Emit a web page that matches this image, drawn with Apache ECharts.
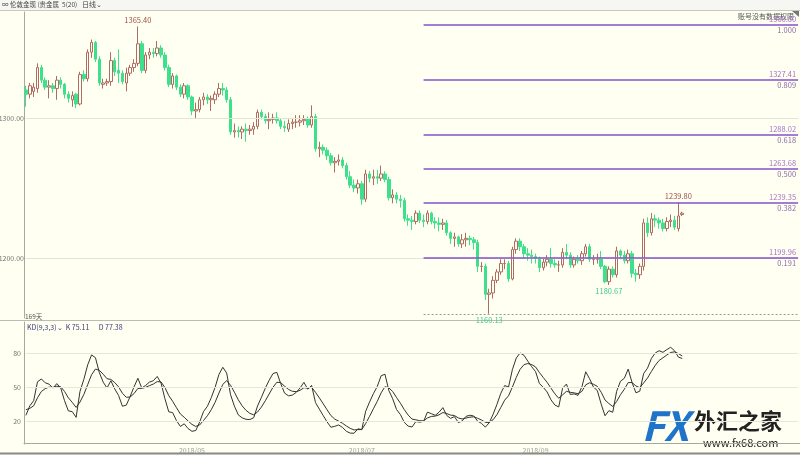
<!DOCTYPE html>
<html><head><meta charset="utf-8">
<script src="https://cdn.jsdelivr.net/npm/echarts@6/dist/echarts.min.js"></script>
<style>html,body{margin:0;padding:0;background:#fffff2;}#c{width:800px;height:455px;}</style>
</head><body><div id="c"></div>
<script>
// ---------- data ----------
const startDate = '2018-03-01';
const categoryCount = 201; // trading days on the axis (data + empty space to the right)
function tradingDays(start, n){
  const out=[]; const d=new Date(start+'T00:00:00Z');
  while(out.length<n){
    const w=d.getUTCDay();
    if(w!==0&&w!==6){ out.push(d.getUTCFullYear()+'/'+String(d.getUTCMonth()+1).padStart(2,'0')+'/'+String(d.getUTCDate()).padStart(2,'0')); }
    d.setUTCDate(d.getUTCDate()+1);
  }
  return out;
}
const dates = tradingDays(startDate, categoryCount);

// [open, close, low, high]
const ohlc = [
[1320,1317,1308,1323],[1317,1323,1314,1325],[1319,1322,1315,1325],[1321,1336,1318,1339],[1336,1327,1325,1338],
[1327,1322,1320,1329],[1322,1323,1314,1327],[1323,1321,1318,1325],[1321,1327,1313,1330],[1327,1324,1321,1329],
[1324,1317,1314,1325],[1317,1314,1311,1319],[1313,1316,1308,1319],[1317,1310,1307,1318],[1310,1331,1309,1333],
[1331,1328,1326,1334],[1328,1347,1326,1349],[1347,1354,1343,1356],[1354,1342,1340,1355],[1342,1325,1323,1344],
[1324,1325,1321,1328],[1325,1326,1323,1328],[1326,1341,1323,1347],[1341,1333,1330,1343],[1334,1332,1325,1349],
[1332,1326,1324,1334],[1325,1332,1319,1336],[1332,1336,1330,1338],[1336,1339,1333,1342],[1339,1353,1337,1365.4],
[1353,1334,1332,1355],[1334,1345,1332,1347],[1345,1347,1342,1350],[1347,1346,1343,1350],[1346,1350,1344,1355],
[1350,1345,1343,1352],[1345,1336,1334,1347],[1336,1324,1322,1338],[1324,1330,1321,1332],[1330,1322,1320,1331],
[1322,1317,1315,1324],[1317,1323,1314,1325],[1323,1315,1313,1324],[1315,1305,1302,1316],[1305,1306,1300,1311],
[1306,1313,1304,1315],[1313,1315,1309,1318],[1315,1313,1310,1317],[1313,1314,1305,1316],[1313,1317,1310,1319],
[1317,1321,1315,1325],[1321,1320,1316,1325],[1320,1313,1311,1322],[1313,1290,1288,1315],[1290,1291,1286,1296],
[1291,1290,1286,1294],[1290,1292,1285,1294],[1292,1291,1283,1296],[1291,1292,1288,1295],[1292,1294,1288,1297],
[1294,1304,1292,1306],[1304,1301,1299,1306],[1301,1298,1296,1303],[1298,1299,1292,1304],[1299,1300,1296,1303],
[1300,1298,1296,1304],[1298,1294,1292,1300],[1294,1293,1290,1298],[1292,1296,1290,1299],[1296,1297,1292,1300],
[1297,1297,1293,1302],[1297,1298,1294,1302],[1298,1299,1295,1302],[1299,1295,1293,1301],[1295,1301,1293,1309],
[1301,1278,1276,1303],[1278,1279,1272,1283],[1279,1277,1274,1281],[1277,1273,1270,1279],[1273,1268,1266,1275],
[1268,1269,1261,1272],[1269,1270,1266,1274],[1270,1266,1264,1272],[1266,1258,1256,1268],[1258,1252,1250,1262],
[1252,1250,1247,1256],[1250,1253,1246,1256],[1253,1242,1238,1255],[1242,1260,1240,1263],[1260,1257,1254,1262],
[1257,1258,1252,1263],[1258,1257,1253,1263],[1257,1260,1255,1266],[1260,1256,1254,1262],[1256,1243,1241,1258],
[1243,1245,1239,1249],[1245,1242,1239,1247],[1242,1241,1236,1245],[1241,1228,1226,1243],[1228,1227,1223,1231],
[1227,1226,1220,1230],[1226,1232,1224,1234],[1232,1227,1225,1234],[1227,1226,1222,1231],[1226,1232,1224,1234],
[1232,1226,1224,1233],[1226,1225,1221,1229],[1225,1224,1219,1229],[1224,1225,1220,1228],[1225,1218,1216,1227],
[1218,1214,1210,1219],[1214,1215,1208,1218],[1215,1210,1208,1216],[1210,1213,1207,1217],[1213,1214,1208,1218],
[1214,1213,1209,1216],[1213,1211,1206,1215],[1211,1194,1190,1213],[1194,1194,1190,1197],[1194,1174,1170,1196],
[1174,1175,1160.13,1178],[1175,1184,1171,1187],[1184,1190,1182,1192],[1190,1196,1188,1199],[1196,1196,1192,1199],
[1196,1185,1183,1198],[1185,1206,1184,1208],[1206,1212,1203,1214],[1212,1208,1205,1214],[1208,1203,1200,1210],
[1203,1202,1198,1207],[1202,1201,1196,1206],[1201,1200,1196,1203],[1200,1193,1190,1201],[1193,1197,1191,1200],
[1197,1199,1194,1202],[1199,1196,1193,1207],[1196,1195,1193,1199],[1195,1195,1190,1198],[1195,1204,1193,1207],
[1204,1202,1199,1210],[1202,1195,1193,1204],[1195,1199,1193,1201],[1199,1198,1196,1202],[1198,1203,1195,1205],
[1203,1208,1201,1210],[1208,1199,1197,1210],[1199,1199,1195,1202],[1199,1200,1196,1203],[1200,1194,1192,1205],
[1194,1183,1182,1195],[1183,1192,1180.67,1194],[1192,1188,1186,1194],[1188,1205,1186,1208],[1205,1202,1199,1206],
[1202,1198,1196,1205],[1198,1203,1196,1206],[1203,1189,1186,1205],[1189,1188,1183,1192],[1188,1194,1185,1196],
[1194,1225,1191,1228],[1225,1218,1215,1229],[1218,1228,1216,1232],[1228,1227,1222,1231],[1227,1225,1221,1229],
[1225,1221,1219,1228],[1221,1226,1219,1229],[1226,1227,1222,1231],[1227,1222,1220,1230],[1221,1230,1219,1239.8],
[1231,1232,1230,1233]
];

const kValues = [
25,33.3,37.9,54.6,57.1,53.7,52.5,49,53,49.3,
37.9,28.9,28.3,23.2,46.1,56.7,69.5,78.3,75.9,62.9,
54.3,49.2,55.5,48.3,42.5,33,34,41.7,50.1,57.7,
49.1,51.4,54.3,55.5,59.3,53.5,39.7,28.1,27.4,20.3,
15.2,17.5,13.3,10.9,11.6,19.1,28.4,32.9,40.6,49.7,
61.1,67.4,62.3,43.2,33.1,25.4,22.8,21.5,21.3,22.9,
33.3,40.9,48.9,55.9,61.9,62.9,52.9,44.6,42.2,42.8,
45.2,49.1,54.1,48.1,51.4,36.3,30.5,24.8,19.2,14.5,
15.3,16.5,14.3,10.9,9.3,9.2,13.1,12.4,28.6,36.7,
44.1,50.4,59.9,61.3,46.9,39.6,30.1,25.7,18.8,15.5,
14.7,19.5,19,19.7,27.8,26.5,25,27.7,31.8,24.9,
22.3,23.9,18.6,20.1,24.1,25.1,24.4,19.9,17.9,14.6,
18.4,25.9,34.6,44.4,51.3,49.9,65.3,75.5,80,78,
72.8,67.9,63.6,53.1,49.7,45.6,38.7,34.1,32.4,48.9,
52.6,43.4,43.9,42.6,50.1,63.4,57.3,49.9,46.9,34.9,
24.6,29.1,27.7,46.1,55.1,57.7,65.8,53.9,44.9,46.3,
61.9,66.6,75.1,80,82,80.6,83,85,82,76.4,75.11
];
const dValues = [
30,31.1,33.4,40.5,46,48.6,49.9,49.6,50.7,50.2,
46.1,40.4,36.4,32,36.7,43.4,52.1,60.8,65.8,64.8,
61.3,57.3,56.7,53.9,50.1,44.4,40.9,41.2,44.2,48.7,
48.8,49.7,51.2,52.6,54.8,54.4,49.5,42.4,37.4,31.7,
26.2,23.3,20,17,15.2,16.5,20.5,24.6,29.9,36.5,
44.7,52.3,55.6,51.5,45.4,38.7,33.4,29.4,26.7,25.4,
28,32.3,37.8,43.8,49.8,54.2,53.8,50.7,47.9,46.2,
45.9,47,49.4,49,49.8,45.3,40.4,35.2,29.9,24.8,
21.6,19.9,18,15.6,13.5,12.1,12.4,12.4,17.8,24.1,
30.8,37.3,44.8,50.3,49.2,46,40.7,35.7,30.1,25.2,
21.7,21,20.3,20.1,22.7,24,24.3,25.4,27.5,26.6,
25.2,24.8,22.7,21.8,22.6,23.4,23.7,22.4,20.9,18.8,
18.7,21.1,25.6,31.9,38.4,42.2,49.9,58.4,65.6,69.7,
70.7,69.8,67.7,62.8,58.4,54.1,49,44,40.1,43,
46.2,45.3,44.8,44.1,46.1,51.9,53.7,52.4,50.6,45.4,
38.5,35.4,32.8,37.2,43.2,48,53.9,53.9,50.9,49.4,
53.6,57.9,63.6,69.1,73.4,75.8,78.2,80.5,81,79.5,77.38
];

const fibPrices = [1366.80,1327.41,1288.02,1263.68,1239.35,1199.96];
const fibRatios = ['1.000','0.809','0.618','0.500','0.382','0.191'];
const fibStartDate = '2018/07/24';
const lowLevel = 1160.13;
const priceGuides = [1300, 1200];
const kdGuides = [80, 50, 20];
const monthLabels = ['2018/05','2018/07','2018/09'];
const annotations = [
  {date:'2018/04/11', value:1365.40, pos:'top', color:'#a0504a'},
  {date:'2018/08/16', value:1160.13, pos:'bottom', color:'#3ec98a'},
  {date:'2018/09/28', value:1180.67, pos:'bottom', color:'#3ec98a'},
  {date:'2018/10/24', value:1239.80, pos:'top', color:'#a0504a'}
];

// ---------- chart ----------
const FONT = "'Noto Sans CJK SC','Noto Sans',sans-serif";
const chart = echarts.init(document.getElementById('c'), null, {renderer:'canvas'});
const lastCat = dates[dates.length-1];

const marks = [];
priceGuides.forEach(p=>{
  marks.push([{coord:[dates[0],p], lineStyle:{color:'#e4e4d6',width:1,type:'solid'},
    label:{show:true,position:'start',formatter:p.toFixed(2),color:'#777',fontSize:7,fontFamily:FONT,distance:2}},{coord:[lastCat,p]}]);
});
fibPrices.forEach((p,i)=>{
  marks.push([{coord:[fibStartDate,p], lineStyle:{color:'#8450c8',width:1.6,type:'solid'},
     label:{show:true,position:'insideEnd',distance:2,
       formatter:'{p|'+p.toFixed(2)+'}\n{r|'+fibRatios[i]+'}',
       rich:{p:{color:'#a472c8',fontSize:7.5,fontFamily:FONT,lineHeight:11,align:'right'},
             r:{color:'#8a6aa8',fontSize:7.5,fontFamily:FONT,lineHeight:11,align:'right'}}}},
     {coord:[lastCat,p]}]);
});
marks.push([{coord:[fibStartDate,lowLevel], lineStyle:{color:'#9a9a9a',width:1,type:[2,2]}, label:{show:false}},{coord:[lastCat,lowLevel]}]);

const kdMarks = kdGuides.map(v=>[{coord:[dates[0],v], lineStyle:{color:'#e6e6da',width:1,type:'solid'},
   label:{show:true,position:'start',formatter:String(v),color:'#777',fontSize:7,fontFamily:FONT,distance:5}},{coord:[lastCat,v]}]);

function isMonthStart(idx){
  if(idx===0) return false;
  return dates[idx].slice(0,7)!==dates[idx-1].slice(0,7) && monthLabels.includes(dates[idx].slice(0,7));
}

const option = {
  backgroundColor:'#fffff2',
  animation:false,
  textStyle:{fontFamily:FONT},
  grid:[
    {left:24,right:0,top:12,height:306},
    {left:24,right:0,top:322,height:122}
  ],
  xAxis:[
    {type:'category',gridIndex:0,data:dates,boundaryGap:true,show:false},
    {type:'category',gridIndex:1,data:dates,boundaryGap:true,
     axisLine:{lineStyle:{color:'#a8a8a0'}},axisTick:{show:false},
     axisLabel:{interval:(idx)=>isMonthStart(idx),formatter:(v)=>v.slice(0,7),color:'#a0a0a0',fontSize:7,margin:3,fontFamily:FONT},
     splitLine:{show:false}}
  ],
  yAxis:[
    {type:'value',gridIndex:0,min:1157.1,max:1375.7,axisLine:{show:true,lineStyle:{color:'#a8a8a0'}},axisTick:{show:false},axisLabel:{show:false},splitLine:{show:false}},
    {type:'value',gridIndex:1,min:-0.3,max:107.35,axisLine:{show:true,lineStyle:{color:'#a8a8a0'}},axisTick:{show:false},axisLabel:{show:false},splitLine:{show:false}}
  ],
  series:[
    {type:'candlestick',xAxisIndex:0,yAxisIndex:0,data:ohlc,barWidth:3,
     itemStyle:{color:'#fffff2',color0:'#3ee08b',borderColor:'#b06c60',borderColor0:'#3ee08b',borderWidth:1},
     markLine:{silent:true,symbol:['none','none'],animation:false,data:marks},
     markPoint:{silent:true,symbol:'circle',symbolSize:1,itemStyle:{color:'rgba(0,0,0,0)'},
       data:annotations.map(a=>({coord:[a.date,a.value],value:a.value,
         label:{show:true,position:a.pos,distance:2,formatter:a.value.toFixed(2),color:a.color,fontSize:7.5,fontFamily:FONT}}))}
    },
    {type:'line',name:'K',xAxisIndex:1,yAxisIndex:1,data:kValues,symbol:'none',lineStyle:{color:'#333',width:1},
     markLine:{silent:true,symbol:['none','none'],animation:false,data:kdMarks}},
    {type:'line',name:'D',xAxisIndex:1,yAxisIndex:1,data:dValues,symbol:'none',lineStyle:{color:'#333',width:1}}
  ],
  graphic:[
    {type:'rect',shape:{x:0,y:0,width:800,height:10},style:{fill:'#f6f6f2'},silent:true},
    {type:'line',shape:{x1:0,y1:10.5,x2:800,y2:10.5},style:{stroke:'#c8c8c0',lineWidth:1},silent:true},
    {type:'text',left:2,top:1,style:{text:'∞ 伦敦金现 (贵金属  5(20)',fill:'#444',font:'6.5px '+FONT}},
    {type:'text',left:82,top:1,style:{text:'日线⌄',fill:'#444',font:'7px '+FONT}},
    {type:'text',right:6,top:13,style:{text:'账号没有数据权限',fill:'#555',font:'7px '+FONT}},
    {type:'polygon',shape:{points:[[792,11],[799,11],[799,17]]},style:{fill:'#777'}},
    {type:'line',shape:{x1:0,y1:320.5,x2:800,y2:320.5},style:{stroke:'#bcbcb4',lineWidth:1},silent:true},
    {type:'text',left:25,top:313,style:{text:'169天',fill:'#555',font:'6.5px '+FONT}},
    {type:'text',left:27,top:324,style:{text:'KD(9,3,3)⌄  K '+kValues[kValues.length-1].toFixed(2)+'      D '+dValues[dValues.length-1].toFixed(2),fill:'#3b3b7a',font:'7px '+FONT}},
    {type:'line',shape:{x1:0,y1:453.5,x2:800,y2:453.5},style:{stroke:'#8a8a84',lineWidth:2},silent:true},
    {type:'text',left:641,top:405,style:{text:'FX',fill:'#1f73c8',font:'bold italic 40px '+FONT,stroke:'#ffffff',lineWidth:1}},
    {type:'text',left:694,top:410,style:{text:'外汇之家',fill:'#222',font:'bold 22px '+FONT}},
    {type:'text',left:703,top:437,style:{text:'www.fx68.com',fill:'#222',font:'11px '+FONT}}
  ]
};
chart.setOption(option);
</script></body></html>
